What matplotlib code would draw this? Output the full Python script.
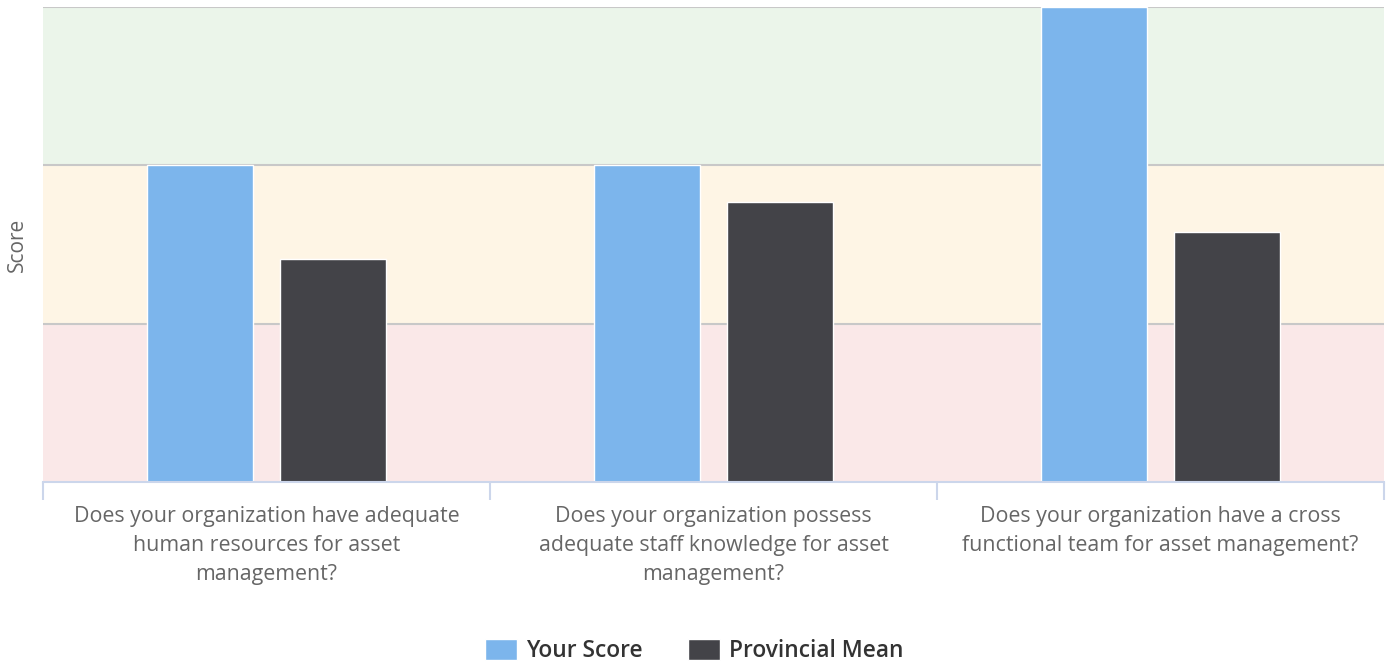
import matplotlib
matplotlib.use("Agg")
import matplotlib.pyplot as plt
import numpy as np

categories = [
    "Does your organization have adequate\nhuman resources for asset\nmanagement?",
    "Does your organization possess\nadequate staff knowledge for asset\nmanagement?",
    "Does your organization have a cross\nfunctional team for asset management?",
]
your_score = [2.0, 2.0, 3.0]
provincial_mean = [1.41, 1.77, 1.58]
series_names = ["Your Score", "Provincial Mean"]
bands = [(0, 1, "#fae8e8"), (1, 2, "#fef5e5"), (2, 3, "#ebf5ea")]

plt.rcParams['font.family'] = ['Open Sans', 'DejaVu Sans']

fig = plt.figure(figsize=(13.88, 6.66), dpi=100)
ax = fig.add_axes([43/1388, (666-482)/666, 1341/1388, 475/666])

for lo, hi, c in bands:
    ax.axhspan(lo, hi, color=c, zorder=0, lw=0)
for y in [1, 2, 3]:
    ax.axhline(y, color="#c8c8c8", lw=1.5, zorder=1)

x = np.arange(len(categories))
w = 0.238
off = 0.149
ax.bar(x - off, your_score, w, color="#7cb5ec", edgecolor="white", lw=1, zorder=2, label=series_names[0])
ax.bar(x + off, provincial_mean, w, color="#434348", edgecolor="white", lw=1, zorder=2, label=series_names[1])

ax.set_xlim(-0.5, 2.5)
ax.set_ylim(0, 3)
ax.set_yticks([])
ax.set_xticks([-0.5, 0.5, 1.5, 2.5])
ax.set_xticklabels([])
ax.tick_params(axis='x', which='major', length=13, width=1.5, color="#ccd6eb")
ax.set_xticks(x, minor=True)
ax.set_xticklabels(categories, minor=True, fontsize=15.4, color="#666666", linespacing=1.5)
ax.tick_params(axis='x', which='minor', length=0, pad=17)

for s in ['top', 'right', 'left']:
    ax.spines[s].set_visible(False)
ax.spines['bottom'].set_color("#ccd6eb")
ax.spines['bottom'].set_linewidth(1.5)
ax.spines['bottom'].set_zorder(3)

fig.text(17/1388, 1 - 245/666, "Score", rotation=90, fontsize=15, color="#666666",
         ha='center', va='center')

leg = fig.legend(loc='center', bbox_to_anchor=(0.5, 1 - 651/666), ncol=2, frameon=False,
                 prop={'size': 16.4, 'weight': 'semibold'}, handlelength=1.4, handleheight=1.05,
                 columnspacing=2.0, handletextpad=0.4)
for t in leg.get_texts():
    t.set_color("#333333")

fig.savefig("out.png", dpi=100)
